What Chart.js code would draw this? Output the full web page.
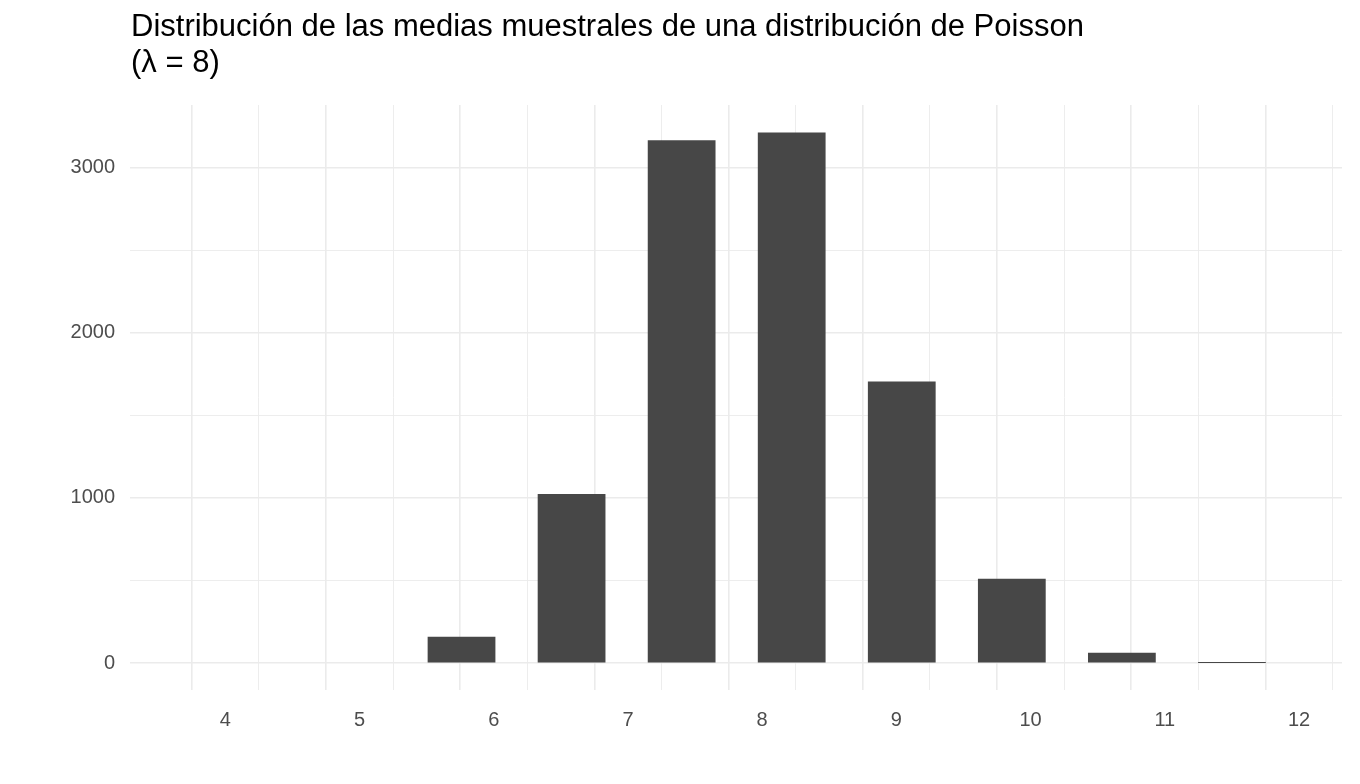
<!DOCTYPE html>
<html>
<head>
<meta charset="utf-8">
<script src="https://cdn.jsdelivr.net/npm/chart.js@4/dist/chart.umd.min.js"></script>
<style>
  body { margin: 0; background: #fff; font-family: "Liberation Sans", Arial, sans-serif; }
  #title { position: absolute; left: 131px; top: 8px; font-size: 31px; line-height: 36px; color: #000; }
</style>
</head>
<body>
<div id="title">Distribución de las medias muestrales de una distribución de Poisson<br>(λ = 8)</div>
<canvas id="hist" width="1360" height="784"></canvas>
<script>
// histogram bins
const binStart = [5.35, 6.17, 6.99, 7.81, 8.63, 9.45, 10.27, 11.09];
const binEnd   = [6.17, 6.99, 7.81, 8.63, 9.45, 10.27, 11.09, 11.91];
const counts   = [158, 1022, 3165, 3212, 1703, 509, 61, 3];

const xTicks = [3.5, 4, 4.5, 5, 5.5, 6, 6.5, 7, 7.5, 8, 8.5, 9, 9.5, 10, 10.5, 11, 11.5, 12];
const yTicks = [0, 500, 1000, 1500, 2000, 2500, 3000];

let points = [];
for (let i = 0; i < counts.length; i++) {
    points.push({ x: (binStart[i] + binEnd[i]) / 2, y: counts[i] });
}

const isMajor = v => Number.isInteger(v);
const gridWidth = ctx => (ctx.tick && isMajor(ctx.tick.value)) ? 1.6 : 0.9;
const yGridWidth = ctx => (ctx.tick && ctx.tick.value % 1000 === 0) ? 1.6 : 0.9;

new Chart(document.getElementById('hist'), {
    type: 'bar',
    data: {
        datasets: [{
            data: points,
            backgroundColor: '#474747',
            barPercentage: 1,
            categoryPercentage: 1,
            borderWidth: 0
        }]
    },
    options: {
        responsive: false,
        animation: false,
        layout: { padding: { top: 105, right: 18, left: 0, bottom: 0 } },
        plugins: { legend: { display: false }, tooltip: { enabled: false } },
        scales: {
            x: {
                type: 'linear',
                min: 3.29,
                max: 12.32,
                offset: false,
                afterBuildTicks: s => { s.ticks = xTicks.map(v => ({ value: v })); },
                afterFit: s => { s.height = 94; },
                border: { display: false },
                grid: { color: '#ebebeb', lineWidth: gridWidth, drawTicks: false },
                ticks: {
                    padding: 18,
                    color: '#4d4d4d',
                    font: { size: 20, family: 'Liberation Sans' },
                    callback: v => isMajor(v) ? v : ''
                }
            },
            y: {
                min: -163,
                max: 3380,
                afterBuildTicks: s => { s.ticks = yTicks.map(v => ({ value: v })); },
                afterFit: s => { s.width = 130; },
                border: { display: false },
                grid: { color: '#ebebeb', lineWidth: yGridWidth, drawTicks: false },
                ticks: {
                    padding: 15,
                    color: '#4d4d4d',
                    font: { size: 20, family: 'Liberation Sans' },
                    callback: v => v % 1000 === 0 ? v : ''
                }
            }
        }
    }
});
</script>
</body>
</html>
